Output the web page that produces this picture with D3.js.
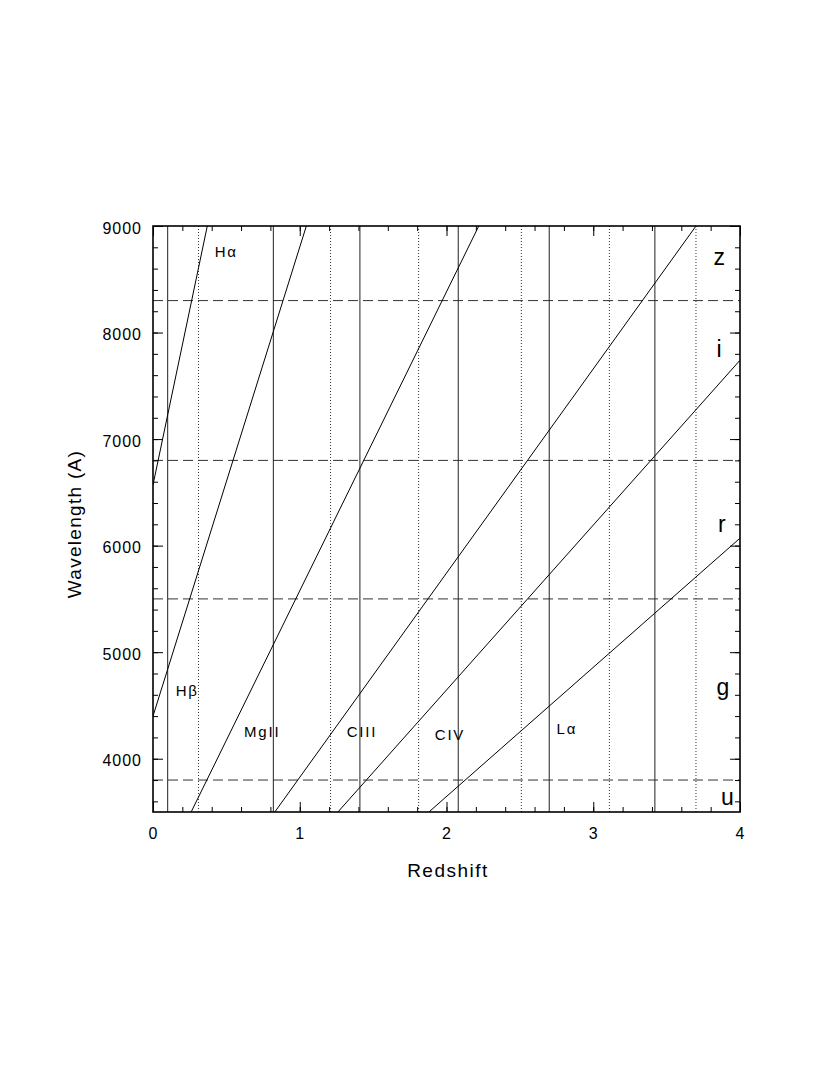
<!DOCTYPE html>
<html>
<head>
  <script src="https://d3js.org/d3.v7.min.js"></script>
  <style>
    body { margin: 0; background: #fff; }
    text { font-family: "Liberation Sans", Arial, sans-serif; fill: #000; }
  </style>
</head>
<body>
<script>
  // emission lines: endpoints [redshift, wavelength]
  var lineNames = ["Ha", "Hb", "MgII", "CIII", "CIV", "La"];
  var lineStart = [[0, 6570], [0, 4400], [0.26, 3500], [0.83, 3500], [1.26, 3500], [1.88, 3500]];
  var lineEnd = [[0.37, 9000], [1.045, 9000], [2.22, 9000], [3.70, 9000], [4, 7740], [4, 6070]];

  // vertical markers
  var solidZ = [0.10, 0.82, 1.41, 2.08, 2.70, 3.42];
  var dottedZ = [0.31, 1.21, 1.81, 2.51, 3.11, 3.70];

  // filter boundaries (dashed)
  var bandEdges = [8300, 6800, 5500, 3800];

  // labels
  var lineLabels = [
    {t: "H\u03b1", z: 0.42, w: 8710},
    {t: "H\u03b2", z: 0.155, w: 4590},
    {t: "MgII", z: 0.62, w: 4204},
    {t: "CIII", z: 1.32, w: 4204},
    {t: "CIV", z: 1.92, w: 4176},
    {t: "L\u03b1", z: 2.75, w: 4232}
  ];
  var bandLabels = [
    {t: "z", z: 3.82, w: 8630},
    {t: "i", z: 3.84, w: 7771},
    {t: "r", z: 3.85, w: 6128},
    {t: "g", z: 3.84, w: 4598},
    {t: "u", z: 3.87, w: 3566}
  ];

  var W = 830, H = 1073;
  var mLeft = 153, mRight = 740, mTop = 226, mBottom = 812;

  var svg = d3.select("body").append("svg")
      .attr("width", W)
      .attr("height", H);

  var x = d3.scaleLinear().domain([0, 4]).range([mLeft, mRight]);
  var y = d3.scaleLinear().domain([3500, 9000]).range([mBottom, mTop]);

  svg.append("clipPath").attr("id", "plot")
    .append("rect")
      .attr("x", mLeft).attr("y", mTop)
      .attr("width", mRight - mLeft).attr("height", mBottom - mTop);

  var g = svg.append("g").attr("clip-path", "url(#plot)");

  // dashed filter edges
  g.selectAll(".band").data(bandEdges).enter().append("line")
      .attr("x1", mLeft).attr("x2", mRight)
      .attr("y1", d => y(d)).attr("y2", d => y(d))
      .attr("stroke", "#333").attr("stroke-width", 1)
      .attr("stroke-dasharray", "10,5");

  g.selectAll(".dot").data(dottedZ).enter().append("line")
      .attr("x1", d => x(d)).attr("x2", d => x(d))
      .attr("y1", mTop).attr("y2", mBottom)
      .attr("stroke", "#333").attr("stroke-width", 1)
      .attr("stroke-dasharray", "1,2");

  g.selectAll(".solid").data(solidZ).enter().append("line")
      .attr("x1", d => x(d)).attr("x2", d => x(d))
      .attr("y1", mTop).attr("y2", mBottom)
      .attr("stroke", "#222").attr("stroke-width", 1);

  // redshifted emission lines
  var line = d3.line().x(d => x(d[0])).y(d => y(d[1]));
  g.selectAll(".em").data(lineNames).enter().append("path")
      .attr("d", (d, i) => line([lineStart[i], lineEnd[i]]))
      .attr("fill", "none").attr("stroke", "#000").attr("stroke-width", 1);

  // axes with inward ticks on all sides
  function styleAxis(sel) {
    sel.select(".domain").remove();
    sel.selectAll("line").attr("stroke", "#000");
    sel.selectAll("text").style("font-size", "16px").style("letter-spacing", "1px");
  }

  var xMinor = d3.range(0, 4.01, 0.2);
  var yMinor = d3.range(3600, 9001, 200);
  var xMajor = [0, 1, 2, 3, 4];
  var yMajor = [4000, 5000, 6000, 7000, 8000, 9000];

  svg.append("g").attr("transform", "translate(0," + mBottom + ")")
      .call(d3.axisBottom(x).tickValues(xMinor).tickSize(-5).tickFormat(""))
      .call(styleAxis);
  svg.append("g").attr("transform", "translate(0," + mBottom + ")")
      .call(d3.axisBottom(x).tickValues(xMajor).tickSize(-10).tickPadding(16).tickFormat(d3.format("d")))
      .call(styleAxis);
  svg.append("g").attr("transform", "translate(0," + mTop + ")")
      .call(d3.axisTop(x).tickValues(xMinor).tickSize(-5).tickFormat(""))
      .call(styleAxis);
  svg.append("g").attr("transform", "translate(0," + mTop + ")")
      .call(d3.axisTop(x).tickValues(xMajor).tickSize(-10).tickFormat(""))
      .call(styleAxis);

  svg.append("g").attr("transform", "translate(" + mLeft + ",0)")
      .call(d3.axisLeft(y).tickValues(yMinor).tickSize(-5).tickFormat(""))
      .call(styleAxis);
  var yl = svg.append("g").attr("transform", "translate(" + mLeft + ",0)")
      .call(d3.axisLeft(y).tickValues(yMajor).tickSize(-10).tickPadding(11).tickFormat(d3.format("d")))
      .call(styleAxis);
  yl.selectAll("text").attr("dy", "0.45em");
  svg.append("g").attr("transform", "translate(" + mRight + ",0)")
      .call(d3.axisRight(y).tickValues(yMinor).tickSize(-5).tickFormat(""))
      .call(styleAxis);
  svg.append("g").attr("transform", "translate(" + mRight + ",0)")
      .call(d3.axisRight(y).tickValues(yMajor).tickSize(-10).tickFormat(""))
      .call(styleAxis);

  // frame
  svg.append("rect")
      .attr("x", mLeft).attr("y", mTop)
      .attr("width", mRight - mLeft).attr("height", mBottom - mTop)
      .attr("fill", "none").attr("stroke", "#000").attr("stroke-width", 1.6);

  // labels
  svg.selectAll(".ll").data(lineLabels).enter().append("text")
      .attr("x", d => x(d.z)).attr("y", d => y(d.w))
      .style("font-size", "15px").style("letter-spacing", "1.8px")
      .text(d => d.t);

  svg.selectAll(".bl").data(bandLabels).enter().append("text")
      .attr("x", d => x(d.z)).attr("y", d => y(d.w))
      .style("font-size", "23px")
      .text(d => d.t);

  // axis titles
  svg.append("text")
      .attr("x", 448).attr("y", 877)
      .attr("text-anchor", "middle")
      .style("font-size", "19px").style("letter-spacing", "1.5px")
      .text("Redshift");

  svg.append("text")
      .attr("transform", "translate(81,524) rotate(-90)")
      .attr("text-anchor", "middle")
      .style("font-size", "19px").style("letter-spacing", "1.3px")
      .text("Wavelength (A)");
</script>
</body>
</html>
